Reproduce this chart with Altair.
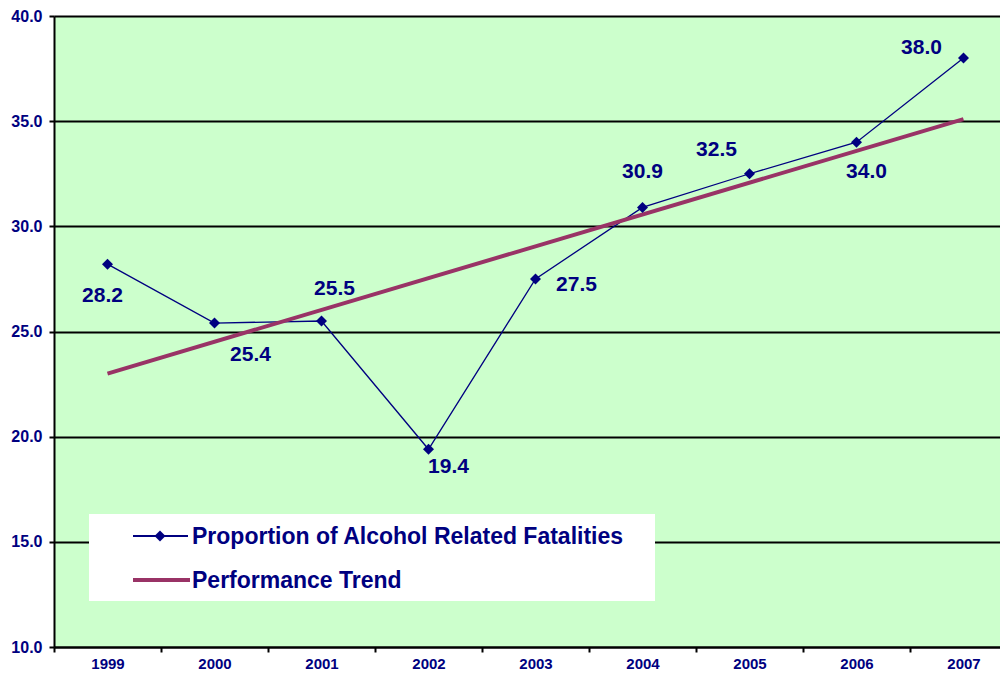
import altair as alt
import pandas as pd

# ---- data ----
years = ["1999", "2000", "2001", "2002", "2003", "2004", "2005", "2006", "2007"]
values = [28.2, 25.4, 25.5, 19.4, 27.5, 30.9, 32.5, 34.0, 38.0]
trend_years = ["1999", "2007"]
trend_values = [23.0, 35.1]
y_ticks = [10, 15, 20, 25, 30, 35, 40]
series_name = "Proportion of Alcohol Related Fatalities"
trend_name = "Performance Trend"

# ---- style ----
NAVY = "#000080"
MAROON = "#993366"
BG = "#CCFFCC"
FONT = "Liberation Sans"
W, H = 946, 631
label_offsets = {
    "1999": (-5, 32), "2000": (36, 32), "2001": (13, -32), "2002": (20, 18),
    "2003": (41, 6), "2004": (0, -35), "2005": (-33, -24), "2006": (10, 30),
    "2007": (-42, -10),
}

df = pd.DataFrame({"year": years, "value": values})
tdf = pd.DataFrame({"year": trend_years, "value": trend_values})

xscale = alt.Scale(domain=years, range=[0, 963], paddingInner=0, paddingOuter=0)
yscale = alt.Scale(domain=[10, 40], nice=False, zero=False)

x_axis = alt.Axis(
    title=None, labelAngle=0, tickBand="extent", grid=False,
    labelFont=FONT, labelFontSize=15, labelFontWeight="bold", labelColor=NAVY,
    domainColor="black", domainWidth=2, tickColor="black", tickWidth=2,
    tickSize=5, labelPadding=4,
)
y_axis = alt.Axis(
    title=None, values=y_ticks, format=".1f", grid=True,
    gridColor="black", gridWidth=2, gridOpacity=1,
    labelFont=FONT, labelFontSize=16, labelFontWeight="bold", labelColor=NAVY,
    domainColor="black", domainWidth=2, tickColor="black", tickWidth=2,
    tickSize=5, labelPadding=7,
)

X = alt.X("year:O", scale=xscale, axis=x_axis, sort=years)
Y = alt.Y("value:Q", scale=yscale, axis=y_axis)
Xn = alt.X("year:O", scale=xscale, sort=years)
Yn = alt.Y("value:Q", scale=yscale)

base = alt.Chart(df)
series_line = base.mark_line(color=NAVY, strokeWidth=1.3).encode(x=X, y=Y)
trend_line = alt.Chart(tdf).mark_line(color=MAROON, strokeWidth=4).encode(x=Xn, y=Yn)
points = base.mark_point(shape="diamond", filled=True, size=120, color=NAVY, opacity=1).encode(x=Xn, y=Yn)

label_layers = []
for yr in years:
    dx, dy = label_offsets[yr]
    label_layers.append(
        base.transform_filter(alt.datum.year == yr)
        .mark_text(font=FONT, fontSize=21, fontWeight="bold", color=NAVY,
                   align="center", baseline="middle", dx=dx, dy=dy)
        .encode(x=Xn, y=Yn, text=alt.Text("value:Q", format=".1f"))
    )

one = alt.Data(values=[{"k": 1}])
leg_box = alt.Chart(one).mark_rect(color="white").encode(
    x=alt.value(35), x2=alt.value(601), y=alt.value(498), y2=alt.value(585)
)
leg_rule1 = alt.Chart(one).mark_rule(color=NAVY, strokeWidth=2).encode(
    x=alt.value(79), x2=alt.value(134), y=alt.value(520)
)
leg_pt1 = alt.Chart(one).mark_point(shape="diamond", filled=True, size=120, color=NAVY, opacity=1).encode(
    x=alt.value(106), y=alt.value(520)
)
leg_txt1 = alt.Chart(one).mark_text(
    text=series_name, font=FONT, fontSize=23, fontWeight="bold", color=NAVY,
    align="left", baseline="middle"
).encode(x=alt.value(138), y=alt.value(521))
leg_rule2 = alt.Chart(one).mark_rule(color=MAROON, strokeWidth=4).encode(
    x=alt.value(79), x2=alt.value(136), y=alt.value(564)
)
leg_txt2 = alt.Chart(one).mark_text(
    text=trend_name, font=FONT, fontSize=23, fontWeight="bold", color=NAVY,
    align="left", baseline="middle"
).encode(x=alt.value(138), y=alt.value(565))

chart = alt.layer(
    series_line, trend_line, points, *label_layers,
    leg_box, leg_rule1, leg_pt1, leg_txt1, leg_rule2, leg_txt2,
).properties(
    width=W, height=H,
    autosize=alt.AutoSizeParams(type="none"),
    padding={"left": 46, "top": 8, "right": 0, "bottom": 24},
    background="white",
).configure_view(fill=BG, stroke=None)

chart.save("out.html", embed_options={"renderer": "svg", "actions": False})
